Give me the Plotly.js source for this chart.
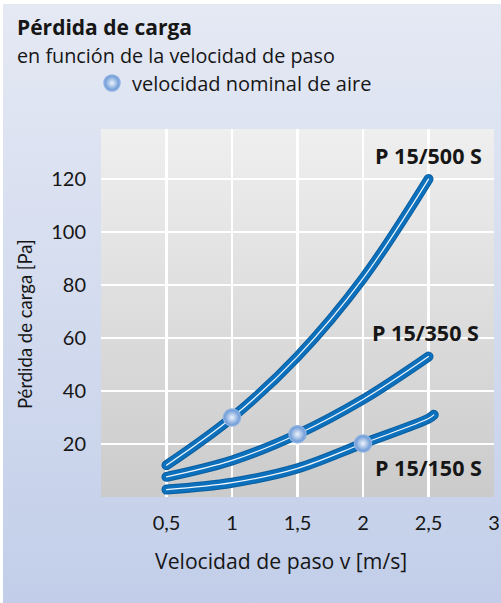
<!DOCTYPE html>
<html>
<head>
<meta charset="utf-8">
<script src="https://cdn.plot.ly/plotly-3.0.1.min.js"></script>
<style>
  html, body { margin: 0; padding: 0; background: #ffffff; }
  #chart {
    width: 501px; height: 603px;
    background:
      linear-gradient(#efefef, #cbcbcb) 101px 129px / 393px 368px no-repeat,
      linear-gradient(#e5e9f4, #c2cee9) 3px 4px / 498px 599px no-repeat,
      #ffffff;
  }
  .scatterlayer .js-line { stroke-linecap: round; }
</style>
</head>
<body>
<div id="chart"></div>
<script>
// ---- data ----
const seriesNames = ["P 15/500 S", "P 15/350 S", "P 15/150 S"];
const x500 = [0.5, 1, 1.5, 2, 2.5];
const y500 = [12, 30, 53, 82.5, 120];
const x350 = [0.5, 1, 1.5, 2, 2.5];
const y350 = [7.6, 13.8, 23.7, 36.8, 53];
const x150 = [0.5, 1, 1.5, 2, 2.5, 2.54];
const y150 = [2.8, 5.4, 10.8, 20.2, 29.6, 31];
const nominalX = [1, 1.5, 2];
const nominalY = [30, 23.7, 20.2];
const nominalName = "velocidad nominal de aire";
const labelX = [2.5, 2.48, 2.5];
const labelY = [129, 62, 11.3];
const xTickVals = [0.5, 1, 1.5, 2, 2.5, 3];
const xTickText = ["0,5", "1", "1,5", "2", "2,5", "3"];
const yTickVals = [20, 40, 60, 80, 100, 120];
const yTickText = ["20", "40", "60", "80", "100", "120"];
const titleText = "Pérdida de carga";
const subtitleText = "en función de la velocidad de paso";
const xTitle = "Velocidad de paso v [m/s]";
const yTitle = "Pérdida de carga [Pa]";

// ---- layout geometry ----
const W = 501, H = 603;
const M = {l: 101, r: 7, t: 129, b: 106};
const pw = W - M.l - M.r, ph = H - M.t - M.b;
const px = v => (v - M.l) / pw;
const py = v => (H - M.b - v) / ph;

const FONT = "'Open Sans', Lato, sans-serif";
const TICKFONT = "Lato, 'Open Sans', sans-serif";
const TXT = "#161616";

const xs = [x500, x350, x150];
const ys = [y500, y350, y150];
const traces = [];
xs.forEach((x, i) => {
  traces.push({x: x, y: ys[i], mode: "lines", showlegend: false, hoverinfo: "skip",
    line: {color: "#0a5e9f", width: 10, shape: "spline", smoothing: 1}});
  traces.push({x: x, y: ys[i], mode: "lines", showlegend: false, hoverinfo: "skip",
    line: {color: "#0d70bc", width: 8, shape: "spline", smoothing: 1}});
  traces.push({x: x, y: ys[i], mode: "lines", showlegend: false, hoverinfo: "skip",
    line: {color: "rgba(255,255,255,0.95)", width: 1.2, shape: "spline", smoothing: 1}});
});
traces.push({x: nominalX, y: nominalY, mode: "markers", name: nominalName, showlegend: true,
  marker: {size: 17, color: "#5f91d3", line: {color: "#8cb0e2", width: 1.5},
           gradient: {type: "radial", color: "#eef3fb"}}});

const annotations = [
  {text: "<b>" + titleText + "</b>", xref: "paper", yref: "paper", x: px(15), y: py(26.5),
   xanchor: "left", yanchor: "middle", showarrow: false, font: {family: FONT, size: 21, color: TXT}},
  {text: subtitleText, xref: "paper", yref: "paper", x: px(15), y: py(55),
   xanchor: "left", yanchor: "middle", showarrow: false, font: {family: FONT, size: 19.8, color: TXT}},
  {text: xTitle, xref: "paper", yref: "paper", x: px(281), y: py(560),
   xanchor: "center", yanchor: "middle", showarrow: false, font: {family: FONT, size: 21.2, color: TXT}},
  {text: yTitle, xref: "paper", yref: "paper", x: px(25), y: py(324), textangle: -90,
   xanchor: "center", yanchor: "middle", showarrow: false, font: {family: TICKFONT, size: 18.5, color: TXT}}
];
seriesNames.forEach((n, i) => {
  annotations.push({text: "<b>" + n + "</b>", x: labelX[i], y: labelY[i], xref: "x", yref: "y",
    xanchor: "center", yanchor: "middle", showarrow: false,
    font: {family: FONT, size: 21.5, color: TXT}});
});

const layout = {
  width: W, height: H, margin: M,
  paper_bgcolor: "rgba(0,0,0,0)", plot_bgcolor: "rgba(0,0,0,0)",
  font: {family: FONT, color: TXT},
  xaxis: {range: [0, 3], tickvals: xTickVals, ticktext: xTickText, showgrid: true,
    gridcolor: "#ffffff", gridwidth: 2.5, zeroline: false, showline: false, ticks: "",
    ticklabelstandoff: 12, tickfont: {family: TICKFONT, size: 20, color: TXT}},
  yaxis: {range: [0, 138.9], tickvals: yTickVals, ticktext: yTickText, showgrid: true,
    gridcolor: "#ffffff", gridwidth: 2.5, zeroline: false, showline: false, ticks: "",
    ticklabelstandoff: 14, tickfont: {family: TICKFONT, size: 20, color: TXT}},
  legend: {x: px(92), y: py(83), xanchor: "left", yanchor: "middle",
    bgcolor: "rgba(0,0,0,0)", font: {family: FONT, size: 20, color: TXT}},
  annotations: annotations,
  showlegend: true
};

Plotly.newPlot("chart", traces, layout, {staticPlot: true, displayModeBar: false});
</script>
</body>
</html>
